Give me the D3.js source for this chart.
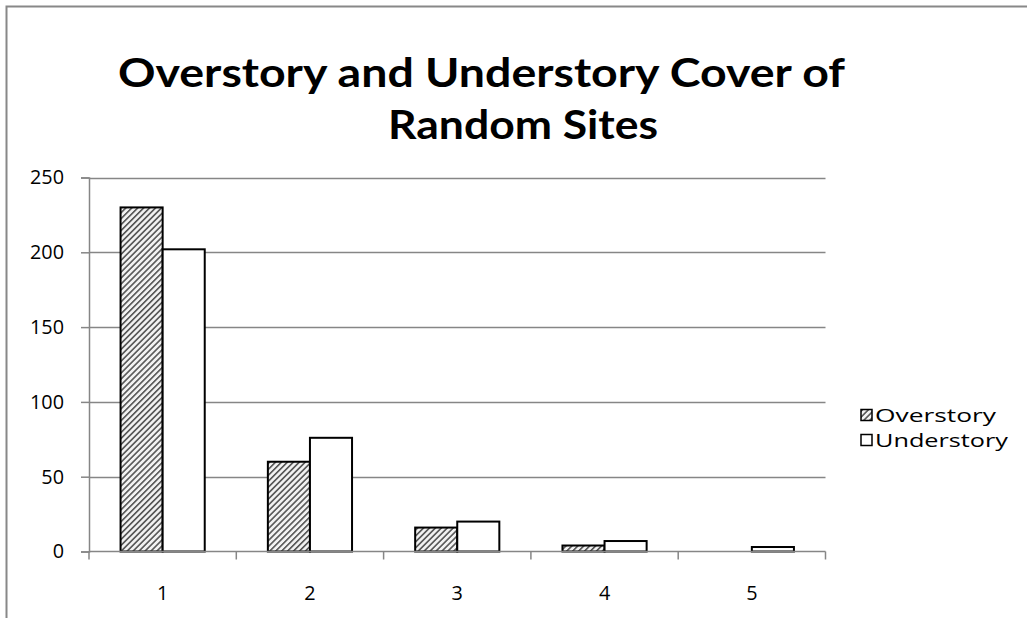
<!DOCTYPE html>
<html><head><meta charset="utf-8">
<script src="https://cdn.jsdelivr.net/npm/d3@7"></script>
<style>html,body{margin:0;padding:0;background:#fff;}svg{display:block;}</style>
</head><body>
<svg id="chart" width="1027" height="618"></svg>
<script>
const categories = ["1", "2", "3", "4", "5"];
const overstory = [230, 60, 16, 4, 0];
const understory = [202, 76, 20, 7, 3];
const seriesNames = ["Overstory", "Understory"];
const yTicks = [0, 50, 100, 150, 200, 250];
const titleLines = ["Overstory and Understory Cover of", "Random Sites"];

const svg = d3.select("#chart");
const FONT = "'Open Sans', Lato, sans-serif";
const TFONT = "Lato, 'Open Sans', sans-serif";
const plot = {left: 89, right: 825.5, top: 177.5, bottom: 551.5};

// pattern
const defs = svg.append("defs");
const pat = defs.append("pattern").attr("id", "hatch").attr("patternUnits", "userSpaceOnUse")
  .attr("width", 4.2).attr("height", 4.2).attr("patternTransform", "rotate(45)");
pat.append("rect").attr("width", 4.2).attr("height", 4.2).attr("fill", "#f2f2f2");
pat.append("rect").attr("x", 0).attr("width", 1.6).attr("height", 4.2).attr("fill", "#555");

// outer frame
svg.append("rect").attr("x", 6.5).attr("y", 6.5).attr("width", 1100).attr("height", 700)
  .attr("fill", "#fff").attr("stroke", "#888").attr("stroke-width", 2);

function fitSize(txt, family, target) {
  const p = svg.append("text").attr("font-family", family).attr("font-size", 20).text(txt);
  const w = p.node().getComputedTextLength();
  p.remove();
  return 20 * target / w;
}

// title
svg.append("text").attr("x", 481.5).attr("y", 87).attr("text-anchor", "middle")
  .attr("font-family", TFONT).attr("font-weight", "bold").attr("font-size", 40)
  .attr("textLength", 727).attr("lengthAdjust", "spacingAndGlyphs").text(titleLines[0]);
svg.append("text").attr("x", 523).attr("y", 139).attr("text-anchor", "middle")
  .attr("font-family", TFONT).attr("font-weight", "bold").attr("font-size", 40)
  .attr("textLength", 270).attr("lengthAdjust", "spacingAndGlyphs").text(titleLines[1]);

const tickFS = fitSize("250", FONT, 34);

const x = d3.scaleBand().domain(categories).range([plot.left, plot.right]);
const y = d3.scaleLinear().domain([0, 250]).range([plot.bottom, plot.top]);
const x1 = d3.scaleBand().domain(seriesNames).range([0, x.bandwidth()]).paddingOuter(0.75).paddingInner(0);

// gridlines
svg.append("g").selectAll("line").data(yTicks.filter(d => d > 0)).join("line")
  .attr("x1", plot.left).attr("x2", plot.right)
  .attr("y1", d => Math.round(y(d)) + 0.5).attr("y2", d => Math.round(y(d)) + 0.5)
  .attr("stroke", "#868686").attr("stroke-width", 1.5);

// bars
const data = categories.map((c, i) => ({c, vals: [overstory[i], understory[i]]}));
const g = svg.append("g");
data.forEach(d => {
  d.vals.forEach((v, j) => {
    if (v <= 0) return;
    g.append("rect")
      .attr("x", x(d.c) + x1(seriesNames[j]))
      .attr("y", y(v))
      .attr("width", x1.bandwidth())
      .attr("height", y(0) - y(v))
      .attr("fill", j === 0 ? "url(#hatch)" : "#fff")
      .attr("stroke", "#000").attr("stroke-width", 2);
  });
});

// axes
const yAxis = d3.axisLeft(y).tickValues(yTicks).tickSize(8).tickPadding(6);
const ya = svg.append("g").attr("transform", `translate(${plot.left},0)`).call(yAxis);
ya.select(".domain").attr("stroke", "#868686").attr("stroke-width", 1.5);
ya.selectAll(".tick line").attr("stroke", "#868686").attr("stroke-width", 1.5);
ya.selectAll("text").attr("font-family", FONT).attr("font-size", tickFS).attr("fill", "#000").attr("x", -25);

const xa = svg.append("g").attr("transform", `translate(0,${plot.bottom})`);
xa.append("line").attr("x1", plot.left).attr("x2", plot.right).attr("stroke", "#868686").attr("stroke-width", 1.5);
const bounds = categories.map(c => x(c)).concat([plot.right]);
xa.selectAll("line.tk").data(bounds).join("line").attr("class", "tk")
  .attr("x1", d => d).attr("x2", d => d).attr("y1", 0).attr("y2", 8)
  .attr("stroke", "#868686").attr("stroke-width", 1.5);
xa.selectAll("text").data(categories).join("text")
  .attr("x", d => x(d) + x.bandwidth() / 2).attr("y", 48)
  .attr("text-anchor", "middle").attr("font-family", FONT).attr("font-size", tickFS).text(d => d);

// legend
const legendWidths = [121, 133];
const lg = svg.append("g");
seriesNames.forEach((n, i) => {
  const cy = 415 + i * 25;
  lg.append("rect").attr("x", 861).attr("y", cy - 5.5).attr("width", 11).attr("height", 11)
    .attr("fill", i === 0 ? "url(#hatch)" : "#fff").attr("stroke", "#000").attr("stroke-width", 1.5);
  lg.append("text").attr("x", 875).attr("y", cy + 6.5).attr("font-family", FONT).attr("font-size", 18)
    .attr("textLength", legendWidths[i]).attr("lengthAdjust", "spacingAndGlyphs").text(n);
});
</script>
</body></html>
